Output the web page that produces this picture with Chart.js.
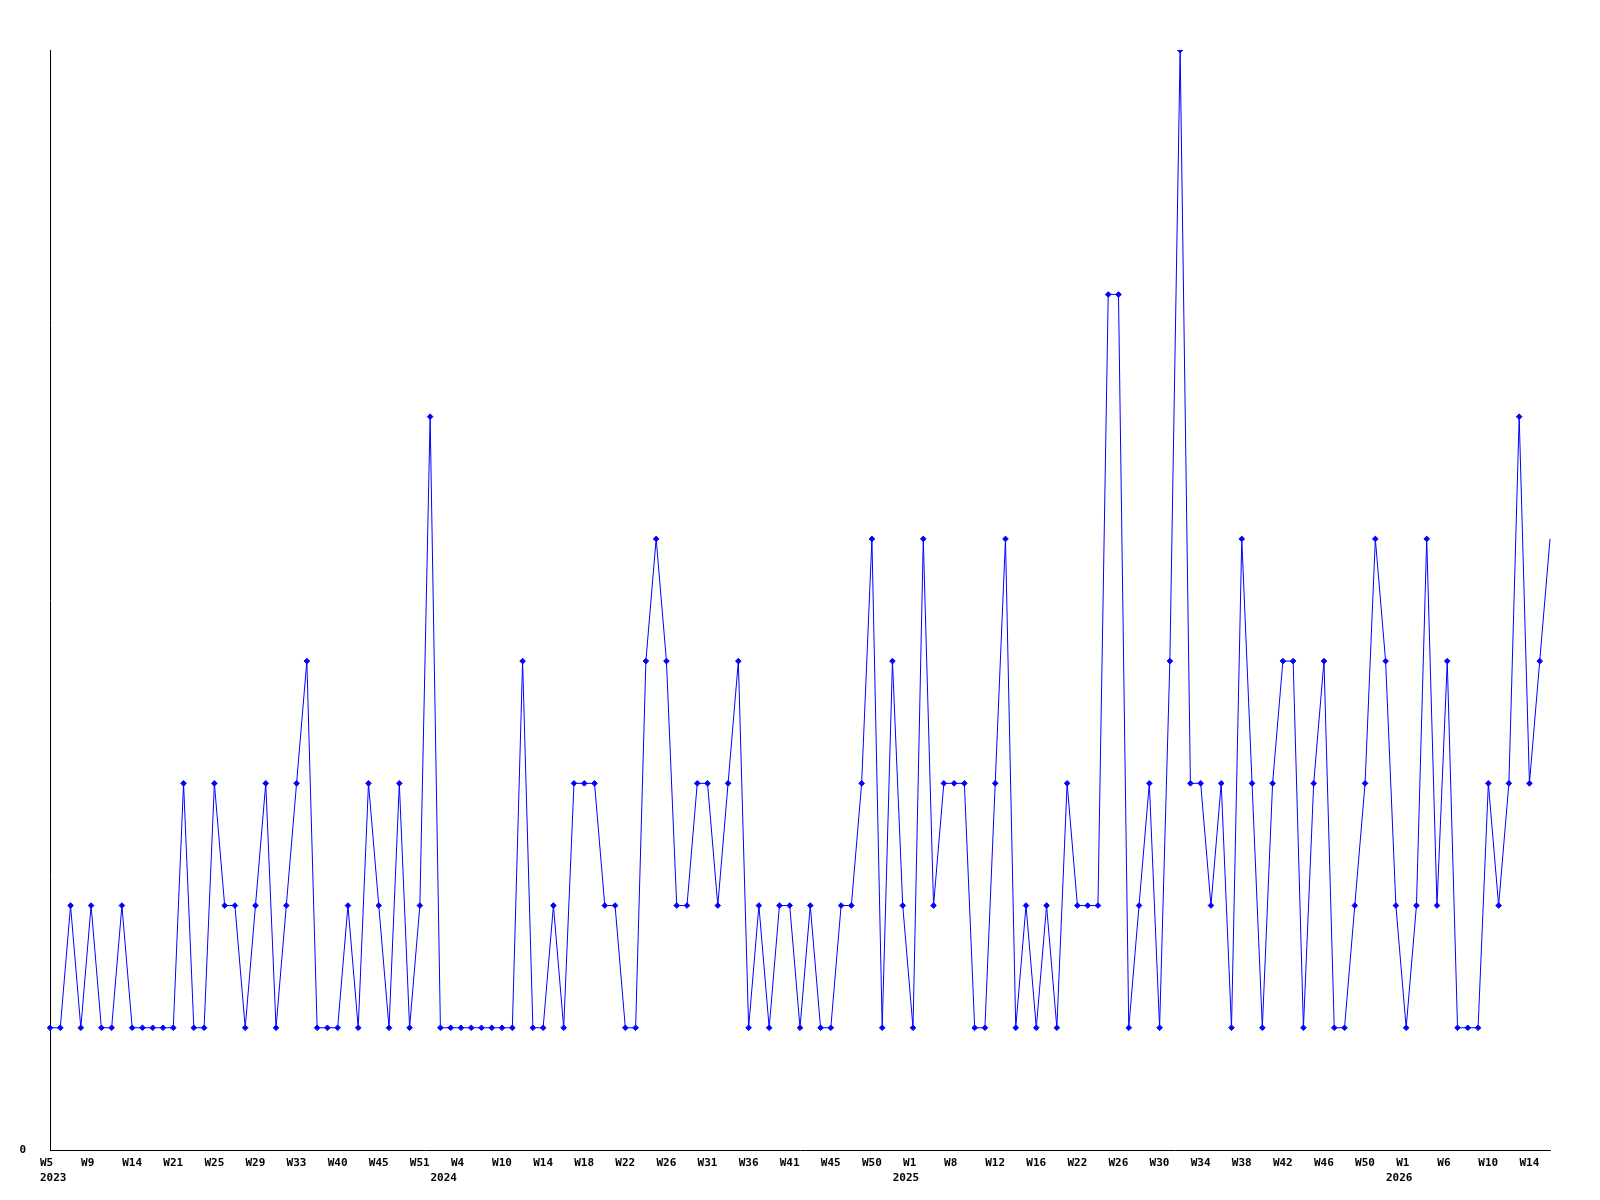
<!DOCTYPE html>
<html>
<head>
<meta charset="utf-8">
<title>weekly</title>
<script src="https://cdn.jsdelivr.net/npm/chart.js@4/dist/chart.umd.min.js"></script>
<style>
	body { margin: 0; background: #fff; }
</style>
</head>
<body>
<canvas id="myChart" width="1600" height="1200"></canvas>
<script>
// count per week (weeks with no entries are skipped)
var values = [
	1, 1, 2, 1, 2, 1, 1, 2, 1, 1, 1, 1, 1, 3, 1, 1, 3, 2, 2, 1,
	2, 3, 1, 2, 3, 4, 1, 1, 1, 2, 1, 3, 2, 1, 3, 1, 2, 6, 1, 1,
	1, 1, 1, 1, 1, 1, 4, 1, 1, 2, 1, 3, 3, 3, 2, 2, 1, 1, 4, 5,
	4, 2, 2, 3, 3, 2, 3, 4, 1, 2, 1, 2, 2, 1, 2, 1, 1, 2, 2, 3,
	5, 1, 4, 2, 1, 5, 2, 3, 3, 3, 1, 1, 3, 5, 1, 2, 1, 2, 1, 3,
	2, 2, 2, 7, 7, 1, 2, 3, 1, 4, 9, 3, 3, 2, 3, 1, 5, 3, 1, 3,
	4, 4, 1, 3, 4, 1, 1, 2, 3, 5, 4, 2, 1, 2, 5, 2, 4, 1, 1, 1,
	3, 2, 3, 6, 3, 4, 5
]

// every 4th week gets a label
var weekTicks = [
	'W5', 'W9', 'W14', 'W21', 'W25', 'W29', 'W33', 'W40', 'W45', 'W51',
	'W4', 'W10', 'W14', 'W18', 'W22', 'W26', 'W31', 'W36', 'W41', 'W45', 'W50',
	'W1', 'W8', 'W12', 'W16', 'W22', 'W26', 'W30', 'W34', 'W38', 'W42', 'W46', 'W50',
	'W1', 'W6', 'W10', 'W14'
]
var yearLabels = ['2023', '2024', '2025', '2026']
var yearAt = [0, 38, 83, 131]   // week index where the year label sits

var labels = []
var radius = []
for (i = 0; i < values.length; i++) {
	var w = ''
	if (i % 4 == 0 && weekTicks[i / 4] != undefined) {
		w = weekTicks[i / 4]
	}
	var y = yearAt.indexOf(i)
	labels.push(y >= 0 ? [w, yearLabels[y]] : w)
	radius.push(i == values.length - 1 ? 0 : 2.8)   // current week has no marker
}

var tickFont = { family: 'DejaVu Sans Mono', size: 11, weight: 'bold', lineHeight: 1.35 }
var ctx = document.getElementById('myChart')

window.myChart = new Chart(ctx, {
	type: 'line',
	data: {
		labels: labels,
		datasets: [{
			data: values,
			borderColor: '#0000ff',
			backgroundColor: '#0000ff',
			borderWidth: 1,
			pointStyle: 'rectRot',
			pointRadius: radius,
			pointBorderWidth: 1,
			tension: 0,
			fill: false
		}]
	},
	options: {
		responsive: false,
		animation: false,
		devicePixelRatio: 1,
		layout: { padding: { top: 50, right: 50, left: 0, bottom: 0 } },
		plugins: {
			legend: { display: false },
			tooltip: { enabled: false }
		},
		scales: {
			x: {
				offset: false,
				grid: { display: false },
				border: { display: true, color: '#000', width: 1 },
				ticks: {
					autoSkip: false,
					maxRotation: 0,
					minRotation: 0,
					align: 'start',
					labelOffset: -10,
					padding: -2,
					color: '#000',
					font: tickFont
				},
				afterFit: function(scale) { scale.height = 50 }
			},
			y: {
				min: 0,
				max: 9,
				grid: { display: false },
				border: { display: true, color: '#000', width: 1 },
				afterBuildTicks: function(scale) {
					scale.ticks = [{ value: 0 }]
				},
				ticks: {
					padding: 16,
					color: '#000',
					font: tickFont,
					callback: function(v) { return v == 0 ? '0' : '' }
				},
				afterFit: function(scale) { scale.width = 50 }
			}
		}
	}
})
</script>
</body>
</html>
